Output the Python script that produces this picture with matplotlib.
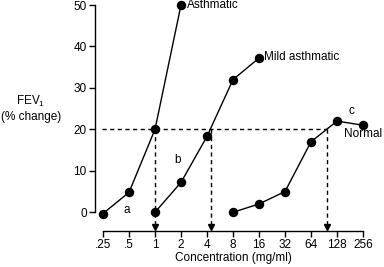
import matplotlib
matplotlib.use("Agg")
import matplotlib.pyplot as plt

plt.rcParams['font.family'] = ['Liberation Sans', 'DejaVu Sans']
plt.rcParams['mathtext.fontset'] = 'custom'
plt.rcParams['mathtext.rm'] = 'Liberation Sans'
plt.rcParams['mathtext.it'] = 'Liberation Sans'

# Data (concentration in mg/ml, FEV1 % change)
asth_x = [0.25, 0.5, 1, 2]
asth_y = [-0.3, 4.8, 20, 50]
mild_x = [1, 2, 4, 8, 16]
mild_y = [0, 7.2, 18.3, 32, 37.2]
norm_x = [8, 16, 32, 64, 128, 256]
norm_y = [0, 2, 5, 17, 22, 21]
pc20 = [1, 4.45, 97]
threshold = 20
tick_vals = [0.25, 0.5, 1, 2, 4, 8, 16, 32, 64, 128, 256]
tick_labels = ['.25', '.5', '1', '2', '4', '8', '16', '32', '64', '128', '256']
ytick_vals = [0, 10, 20, 30, 40, 50]

W, H = 384, 267
fig = plt.figure(figsize=(W / 100, H / 100), dpi=100)
ax = fig.add_axes([95 / W, 1 - 231 / H, (376 - 95) / W, (231 - 5) / H])
ax.set_xscale('log', base=2)
ax.set_xlim(0.25 * 2 ** (-8 / 26), 0.25 * 2 ** (273 / 26))
ax.set_ylim((212.3 - 231) / 4.14, 50)

ax.spines['top'].set_visible(False)
ax.spines['right'].set_visible(False)
ax.spines['left'].set_bounds(0, 50)
ax.spines['bottom'].set_bounds(0.25, 256)
for s in ('left', 'bottom'):
    ax.spines[s].set_linewidth(1.0)

ax.set_xticks(tick_vals)
ax.set_xticklabels(tick_labels)
ax.xaxis.set_minor_locator(matplotlib.ticker.NullLocator())
ax.set_yticks(ytick_vals)
ax.tick_params(axis='both', direction='out', length=4, width=1.0, labelsize=8.5, pad=2)

kw = dict(color='black', lw=1.0, marker='o', markersize=5.8, clip_on=False, zorder=3)
ax.plot(asth_x, asth_y, **kw)
ax.plot(mild_x, mild_y, **kw)
ax.plot(norm_x, norm_y, **kw)

dash = dict(color='black', lw=1.0, linestyle=(0, (3, 2.5)), clip_on=False, zorder=2)
ax.plot([0.25 * 2 ** (-0.05), pc20[-1]], [threshold, threshold], **dash)
ybot = ax.get_ylim()[0]
for c in pc20:
    ax.plot([c, c], [threshold, ybot + 1.2], **dash)
    ax.plot([c], [ybot + 0.9], marker='v', color='black', markersize=4.5, clip_on=False, zorder=3)

fs = 8.5
ax.text(2.35, 50, 'Asthmatic', fontsize=fs, va='center', ha='left')
ax.text(18.5, 37.4, 'Mild asthmatic', fontsize=fs, va='center', ha='left')
ax.text(186, 24.5, 'c', fontsize=fs, va='center', ha='center')
ax.text(154, 18.9, 'Normal', fontsize=fs, va='center', ha='left')
ax.text(0.47, 0.5, 'a', fontsize=fs, va='center', ha='center')
ax.text(1.8, 12.5, 'b', fontsize=fs, va='center', ha='center')

fig.text(31 / W, 1 - 101 / H, 'FEV$_1$', fontsize=fs, ha='center', va='center')
fig.text(31 / W, 1 - 117 / H, '(% change)', fontsize=fs, ha='center', va='center')
fig.text(233 / W, 1 - 258 / H, 'Concentration (mg/ml)', fontsize=fs, ha='center', va='center')

fig.savefig('out.png', dpi=100)
